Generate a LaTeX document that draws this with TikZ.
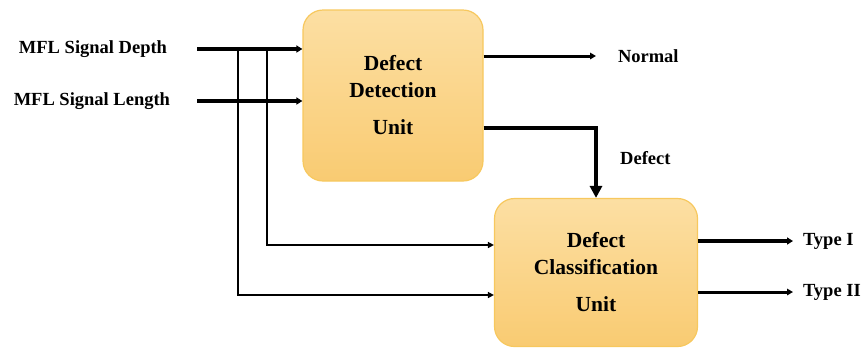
\documentclass[tikz,border=0pt]{standalone}
\usepackage{fontspec}
\setmainfont{Liberation Serif}
\usetikzlibrary{positioning,arrows.meta,calc}

\definecolor{boxtop}{HTML}{FCDFA3}
\definecolor{boxbot}{HTML}{F9CB72}
\definecolor{boxline}{HTML}{F7C85E}

\begin{document}
\begin{tikzpicture}[
  x=1pt, y=-1pt,
  font=\bfseries,
  unitbox/.style={draw=boxline, line width=1.2pt, rounded corners=20pt,
    top color=boxtop, bottom color=boxbot, align=center,
    font=\bfseries\fontsize{21.5}{27}\selectfont},
  lbl/.style={inner sep=0pt, font=\bfseries\fontsize{18.5}{21}\selectfont},
  arr/.style={-{Triangle[length=6pt,width=6.5pt]}, line width=3pt},
  fat/.style={-{Triangle[length=6pt,width=7pt]}, line width=4pt},
  tap/.style={line width=2.2pt}
]
\useasboundingbox (0,0) rectangle (864,349);

% nodes
\node[unitbox, minimum width=180pt, minimum height=171pt] (detect) at (393,95.5)
  {Defect\\Detection\\[10pt]Unit};
\node[unitbox, minimum width=203pt, minimum height=148pt] (classify) at (596,272.5)
  {Defect\\Classification\\[10pt]Unit};

\node[lbl, anchor=east, outer xsep=30pt] (depth) at (197,49) {MFL Signal Depth};
\node[lbl, anchor=east, outer xsep=27pt] (length) at (197,101) {MFL Signal Length};
\node[lbl, anchor=west, outer xsep=22pt] (normal) at (596,56) {Normal};
\node[lbl, anchor=west] (defect) at (620,158) {Defect};
\node[lbl, anchor=west, outer xsep=10pt] (type1) at (793,241) {Type I};
\node[lbl, anchor=west, outer xsep=10pt] (type2) at (793,292) {Type II};

\coordinate (tapA) at (238,49);
\coordinate (tapB) at (267,49);

% arrows
\draw[fat] (depth.east) -- (detect.west |- depth);
\draw[fat] (length.east) -- (detect.west |- length);
\draw[tap, -{Triangle[length=6pt,width=6pt]}] (tapB) |- (classify.west |- 0,245);
\draw[tap, -{Triangle[length=6pt,width=6pt]}] (tapA) |- (classify.west |- 0,295);
\draw[arr] (detect.east |- normal) -- (normal.west);
\draw[line width=4pt, -{Triangle[length=12pt,width=12pt]}]
  ([yshift=-32.5pt]detect.east) -| (classify.north);
\draw[fat] (classify.east |- type1) -- (type1.west);
\draw[arr] (classify.east |- type2) -- (type2.west);

\end{tikzpicture}
\end{document}
